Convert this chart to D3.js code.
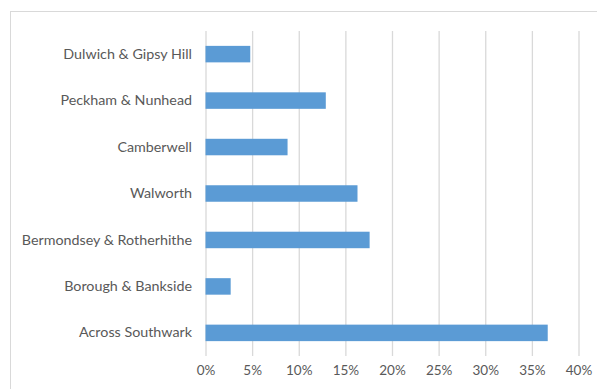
<!DOCTYPE html>
<html><head><meta charset="utf-8">
<script src="https://cdn.jsdelivr.net/npm/d3@7"></script>
<style>body{margin:0;background:#fff}svg{display:block}</style>
</head><body>
<svg id="c" width="597" height="389"></svg>
<script>
const categories = ["Dulwich & Gipsy Hill","Peckham & Nunhead","Camberwell","Walworth","Bermondsey & Rotherhithe","Borough & Bankside","Across Southwark"];
const values = [0.048, 0.129, 0.088, 0.163, 0.176, 0.027, 0.367];
const tickValues = [0,0.05,0.10,0.15,0.20,0.25,0.30,0.35,0.40];

const svg = d3.select("#c");
const font = "Lato, 'Open Sans', sans-serif";
svg.append("rect").attr("x",10.5).attr("y",11.5).attr("width",600).attr("height",400)
  .attr("fill","#fff").attr("stroke","#d9d9d9");

const x = d3.scaleLinear().domain([0,0.40]).range([205.5,578.5]);
const y = d3.scaleBand().domain(categories).range([31,356]).paddingInner(0.645).paddingOuter(0.32);

const grid = svg.append("g").attr("transform","translate(0,356)")
  .call(d3.axisBottom(x).tickValues(tickValues).tickSize(-325).tickFormat(d3.format(".0%")));
grid.select(".domain").remove();
grid.selectAll(".tick line").attr("stroke","#d9d9d9").attr("stroke-width",1.3);
grid.selectAll(".tick text").attr("fill","#595959").attr("font-family",font).attr("font-size",13.5).attr("dy","1.15em");

svg.append("g").selectAll("rect").data(values).join("rect")
  .attr("x",x(0)).attr("y",(d,i)=>y(categories[i]))
  .attr("width",d=>x(d)-x(0)).attr("height",y.bandwidth())
  .attr("fill","#5b9bd5");

const ya = svg.append("g").attr("transform","translate(192,0)")
  .call(d3.axisLeft(y).tickSize(0).tickPadding(0));
ya.select(".domain").remove();
ya.selectAll("text").attr("fill","#595959").attr("font-family",font).attr("font-size",14.3);
</script>
</body></html>
